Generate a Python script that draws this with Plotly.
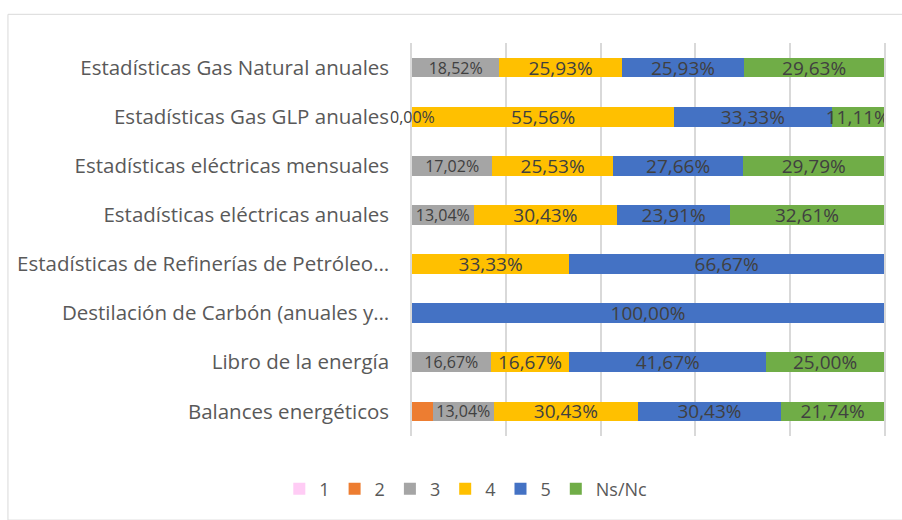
import plotly.graph_objects as go

# Categories (top to bottom as in the chart)
categories = [
    "Estadísticas Gas Natural anuales",
    "Estadísticas Gas GLP anuales",
    "Estadísticas eléctricas mensuales",
    "Estadísticas eléctricas anuales",
    "Estadísticas de Refinerías de Petróleo…",
    "Destilación de Carbón (anuales y…",
    "Libro de la energía",
    "Balances energéticos",
]

# Percent values per answer (None = no value)
s1 = [None, None, None, None, None, None, None, None]
s2 = [None, None, None, None, None, None, None, 4.35]
s3 = [18.52, 0.00, 17.02, 13.04, None, None, 16.67, 13.04]
s4 = [25.93, 55.56, 25.53, 30.43, 33.33, None, 16.67, 30.43]
s5 = [25.93, 33.33, 27.66, 23.91, 66.67, 100.00, 41.67, 30.43]
s_ns = [29.63, 11.11, 29.79, 32.61, None, None, 25.00, 21.74]

series = [
    ("1", s1, "#FFCCF5", False, 16),
    ("2", s2, "#ED7D31", False, 16),
    ("3", s3, "#A5A5A5", True, 16),
    ("4", s4, "#FFC000", True, 19),
    ("5", s5, "#4472C4", True, 19),
    ("Ns/Nc", s_ns, "#70AD47", True, 19),
]

FONT = "Open Sans"

def fmt(v):
    return "" if v is None else f"{v:.2f}%".replace(".", ",")

fig = go.Figure()
for name, vals, color, labelled, fsize in series:
    fig.add_trace(go.Bar(
        y=categories,
        x=vals,
        name=name,
        orientation="h",
        marker=dict(color=color, line=dict(width=0)),
        text=[fmt(v) for v in vals] if labelled else None,
        textposition="inside" if labelled else "none",
        insidetextanchor="middle",
        textangle=0,
        constraintext="none",
        textfont=dict(family=FONT, size=fsize, color="#404040"),
    ))

# zero-width value that Excel still labels (0,00%)
for cat, v in zip(categories, s3):
    if v == 0:
        fig.add_annotation(x=v, y=cat, xref="x", yref="y", text=fmt(v),
                           showarrow=False, xanchor="center",
                           font=dict(family=FONT, size=16, color="#404040"))

fig.update_layout(
    width=902,
    height=520,
    barmode="stack",
    bargap=0.6,
    paper_bgcolor="white",
    plot_bgcolor="white",
    margin=dict(l=412, r=18, t=43, b=80),
    font=dict(family=FONT, color="#595959"),
    xaxis=dict(range=[0, 100], dtick=20, showticklabels=False,
               showgrid=True, gridcolor="#D9D9D9", gridwidth=1.5,
               zeroline=False, showline=False, fixedrange=True),
    yaxis=dict(autorange="reversed", showgrid=False, ticks="",
               showline=True, mirror=True, linecolor="#D9D9D9",
               linewidth=1.5, layer="below traces",
               ticklabelstandoff=17, fixedrange=True,
               tickfont=dict(family=FONT, size=20.5, color="#595959")),
    legend=dict(orientation="h", x=0.114, xanchor="center", y=-0.135,
                yanchor="middle", traceorder="normal",
                font=dict(family=FONT, size=18, color="#595959")),
    showlegend=True,
)

# chart area border
fig.add_shape(type="rect", xref="paper", yref="paper",
              x0=-0.856, x1=1.045, y0=-0.214, y1=1.073,
              line=dict(color="#D9D9D9", width=1), layer="below")

fig.write_html("out.html", config={"displayModeBar": False},
               post_script="document.body.style.margin='0';")
